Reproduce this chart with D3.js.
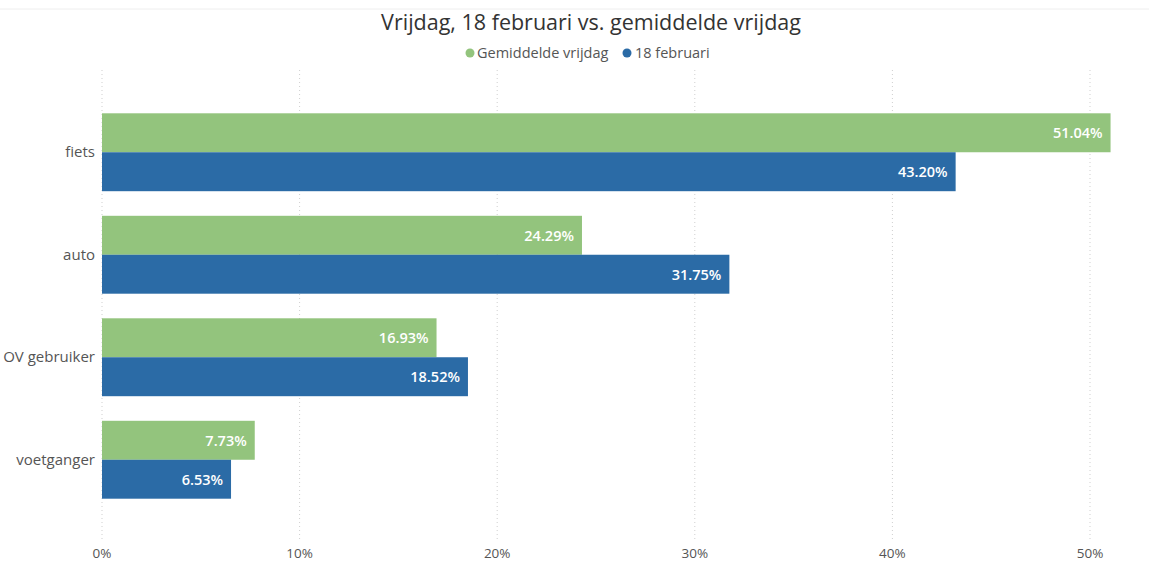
<!DOCTYPE html>
<html>
<head>
<meta charset="utf-8">
<script src="https://cdn.jsdelivr.net/npm/d3@7.9.0/dist/d3.min.js"></script>
<style>
  html, body { margin: 0; padding: 0; background: #fff; }
  svg { display: block; font-family: 'Open Sans', 'Noto Sans', sans-serif; }
</style>
</head>
<body>
<svg id="chart" width="1149" height="563"></svg>
<script>
const categories = ['fiets', 'auto', 'OV gebruiker', 'voetganger'];
const seriesNames = ['Gemiddelde vrijdag', '18 februari'];
const averageFriday = [51.04, 24.29, 16.93, 7.73];
const february18 = [43.2, 31.75, 18.52, 6.53];
const xTicks = [0, 10, 20, 30, 40, 50];
const colors = ['#93c47d', '#2b6ba6'];

const svg = d3.select('#chart');
const width = 1149;

const x = d3.scaleLinear().domain([0, 50]).range([102, 1090]);
const y = d3.scaleBand().domain(categories).range([101, 511]).paddingInner(0.24).paddingOuter(0.12);
const ySub = d3.scaleBand().domain(seriesNames).range([0, y.bandwidth()]);

// faint top rule
svg.append('line')
  .attr('x1', 0).attr('x2', width)
  .attr('y1', 9).attr('y2', 9)
  .attr('stroke', '#eeeeee');

svg.append('text')
  .attr('x', 591).attr('y', 30)
  .attr('text-anchor', 'middle')
  .attr('font-size', 21.5)
  .attr('fill', '#333')
  .text('Vrijdag, 18 februari vs. gemiddelde vrijdag');

// legend
const legend = svg.append('g').attr('font-size', 14.5).attr('fill', '#555');
const legendItems = [
  { name: seriesNames[0], cx: 470, tx: 477 },
  { name: seriesNames[1], cx: 627, tx: 635 },
];
legendItems.forEach((item, i) => {
  legend.append('circle').attr('cx', item.cx).attr('cy', 53).attr('r', 4.5).attr('fill', colors[i]);
  legend.append('text').attr('x', item.tx).attr('y', 58).text(item.name);
});

// gridlines
svg.append('g')
  .selectAll('line')
  .data(xTicks)
  .join('line')
  .attr('x1', (d) => x(d)).attr('x2', (d) => x(d))
  .attr('y1', 70).attr('y2', 540)
  .attr('stroke', '#cfcfcf')
  .attr('stroke-dasharray', '1,3');

// x tick labels
svg.append('g')
  .selectAll('text')
  .data(xTicks)
  .join('text')
  .attr('x', (d) => x(d))
  .attr('y', 558)
  .attr('text-anchor', 'middle')
  .attr('font-size', 13.5)
  .attr('fill', '#555')
  .text((d) => `${d}%`);

// category labels
svg.append('g')
  .selectAll('text')
  .data(categories)
  .join('text')
  .attr('x', 95)
  .attr('y', (d) => y(d) + y.bandwidth() / 2 + 5)
  .attr('text-anchor', 'end')
  .attr('font-size', 15)
  .attr('fill', '#555')
  .text((d) => d);

const rows = categories.map((c, i) => ({
  category: c,
  values: [
    { series: seriesNames[0], value: averageFriday[i], color: colors[0] },
    { series: seriesNames[1], value: february18[i], color: colors[1] },
  ],
}));

const groups = svg.append('g')
  .selectAll('g')
  .data(rows)
  .join('g')
  .attr('transform', (d) => `translate(0,${y(d.category)})`);

groups.selectAll('rect')
  .data((d) => d.values)
  .join('rect')
  .attr('x', x(0))
  .attr('y', (d) => ySub(d.series))
  .attr('width', (d) => x(d.value) - x(0))
  .attr('height', ySub.bandwidth())
  .attr('fill', (d) => d.color);

groups.selectAll('text')
  .data((d) => d.values)
  .join('text')
  .attr('x', (d) => x(d.value) - 8)
  .attr('y', (d) => ySub(d.series) + ySub.bandwidth() / 2 + 5.5)
  .attr('text-anchor', 'end')
  .attr('font-size', 14.5)
  .attr('font-weight', 600)
  .attr('fill', '#fff')
  .text((d) => `${d.value.toFixed(2)}%`);
</script>
</body>
</html>
